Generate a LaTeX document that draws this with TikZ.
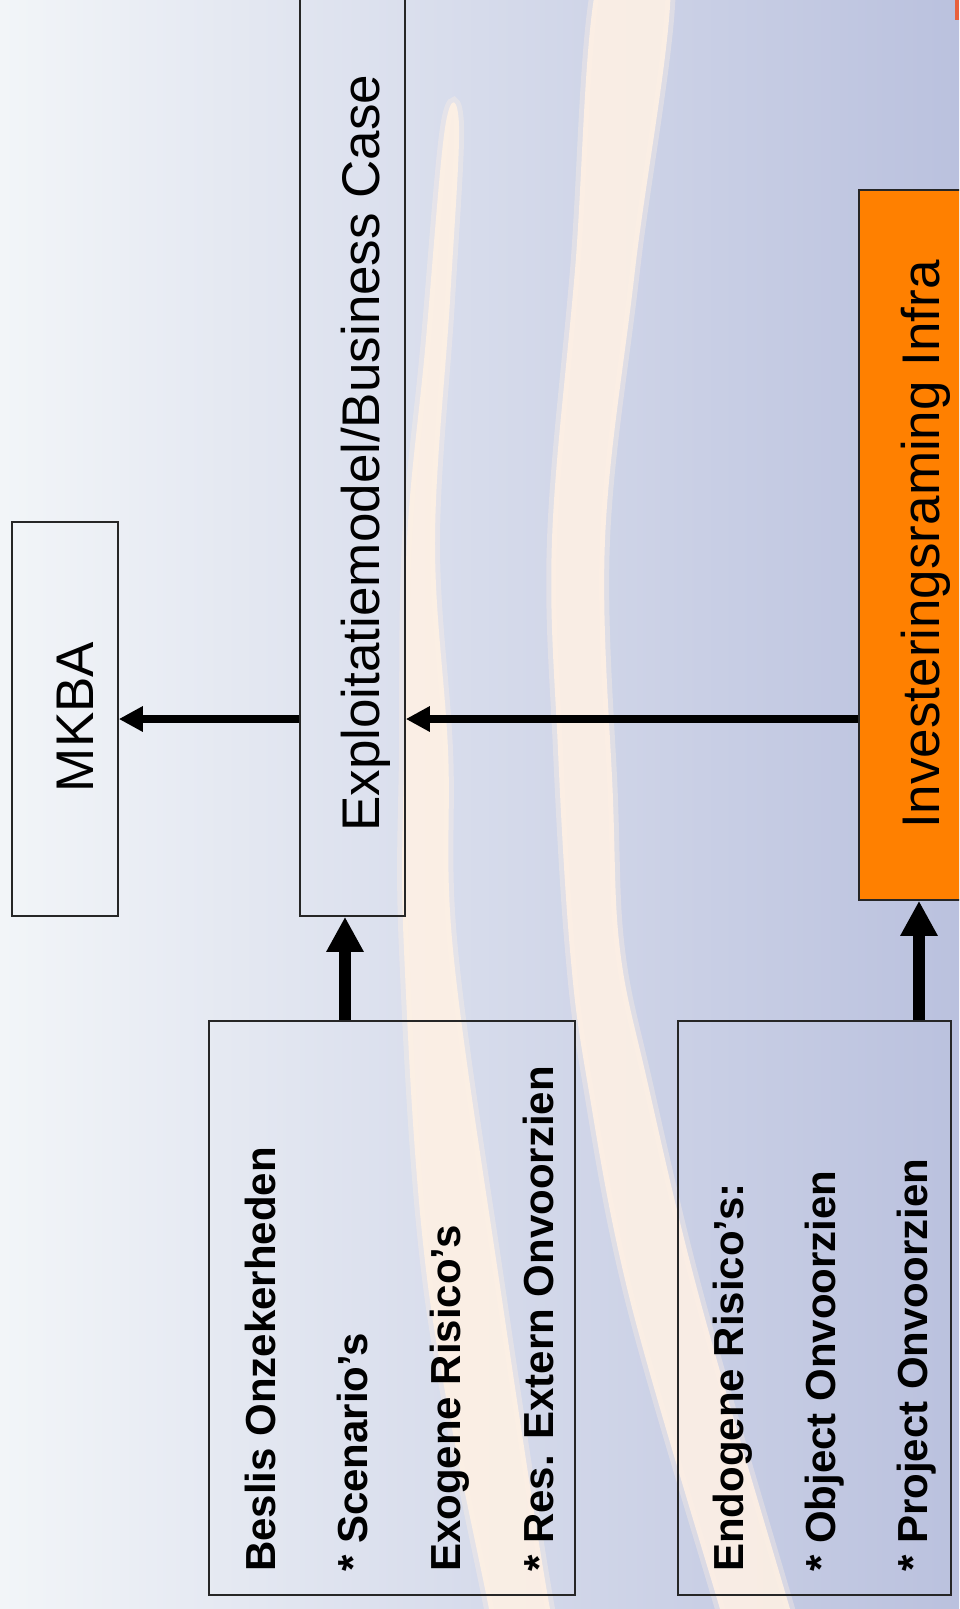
\documentclass[tikz,border=0pt]{standalone}
\usepackage{fontspec}
\setmainfont{Liberation Sans}
\usetikzlibrary{arrows.meta}
\definecolor{bgL}{RGB}{242,245,248}
\definecolor{bgR}{RGB}{186,193,222}
\definecolor{cream}{RGB}{255,241,228}
\definecolor{orng}{RGB}{255,128,0}
\definecolor{redbit}{RGB}{232,96,60}
\newcommand\bigtxt{\fontsize{53}{60}\selectfont}
\newcommand\boldtxt{\fontsize{42}{48}\selectfont\bfseries}
\begin{document}
\begin{tikzpicture}[x=1pt,y=-1pt,
  box/.style={draw=black!85, line width=1.6pt, inner sep=0pt},
  thinarr/.style={line width=8.5pt, -{Triangle[length=24pt,width=24pt]}},
  thickarr/.style={line width=11.7pt, -{Triangle[length=35pt,width=35pt]}},
  lbl/.style={rotate=90, inner sep=0pt, anchor=base, font=\bigtxt},
  item/.style={rotate=90, inner sep=0pt, anchor=base west, font=\boldtxt},
  arc/.style={fill=cream, draw=cream, fill opacity=0.88, draw opacity=0.35, line width=10pt}]
\useasboundingbox (0,0) rectangle (959,1609);
\clip (0,0) rectangle (959,1609);
\shade[left color=bgL, right color=bgR] (0,0) rectangle (959,1609);
% cream arcs
\filldraw[arc] plot[smooth cycle, tension=0.6] coordinates {
  (445,128) (425,350) (407,540) (404,750) (404,950) (428,1286) (489,1609) (500,1660)
  (568,1660) (550,1609) (500,1286) (453,950) (448,750) (435,540) (450,300) (459,126)};
\filldraw[arc] plot[smooth cycle, tension=0.6] coordinates {
  (600,-30) (575,270) (552,540) (558,750) (570,950) (587,1080) (630,1300) (720,1609) (735,1660)
  (805,1660) (790,1609) (700,1300) (647,1080) (620,950) (613,800) (605,540) (635,270) (670,-30)};
\fill[redbit] (955,0) rectangle (959,20);
% boxes
\node[box, minimum width=106pt, minimum height=394pt] (mkba) at (65,719) {};
\node[box, minimum width=105pt, minimum height=926pt] (expl) at (352.5,453) {};
\node[box, fill=orng, minimum width=120pt, minimum height=710pt] (inv) at (919,545) {};
\node[box, minimum width=366pt, minimum height=574pt] (besl) at (392,1308) {};
\node[box, minimum width=273pt, minimum height=574pt] (endo) at (814.5,1308) {};
% labels
\node[lbl] (tmkba) at (93,717) {MKBA};
\node[lbl] (texpl) at (379,453) {Exploitatiemodel/Business Case};
\node[lbl] (tinv) at (939,544.5) {Investeringsraming Infra};
\node[item] (b1) at (275,1572) {Beslis Onzekerheden};
\node[item] (b2) at (367,1572) {* Scenario’s};
\node[item] (b3) at (460,1572) {Exogene Risico’s};
\node[item] (b4) at (553,1572) {* Res. Extern Onvoorzien};
\node[item] (e1) at (743,1572) {Endogene Risico’s:};
\node[item] (e2) at (835,1572) {* Object Onvoorzien};
\node[item] (e3) at (927,1572) {* Project Onvoorzien};
% connectors
\coordinate (bx) at (345,0);
\draw[thinarr] (expl.west |- mkba.center) -- (mkba.east);
\draw[thinarr] (inv.west |- mkba.center) -- (expl.east |- mkba.center);
\draw[thickarr] (besl.north -| bx) -- (expl.south -| bx);
\draw[thickarr] (endo.north -| inv.south) -- (inv.south);
\end{tikzpicture}
\end{document}
